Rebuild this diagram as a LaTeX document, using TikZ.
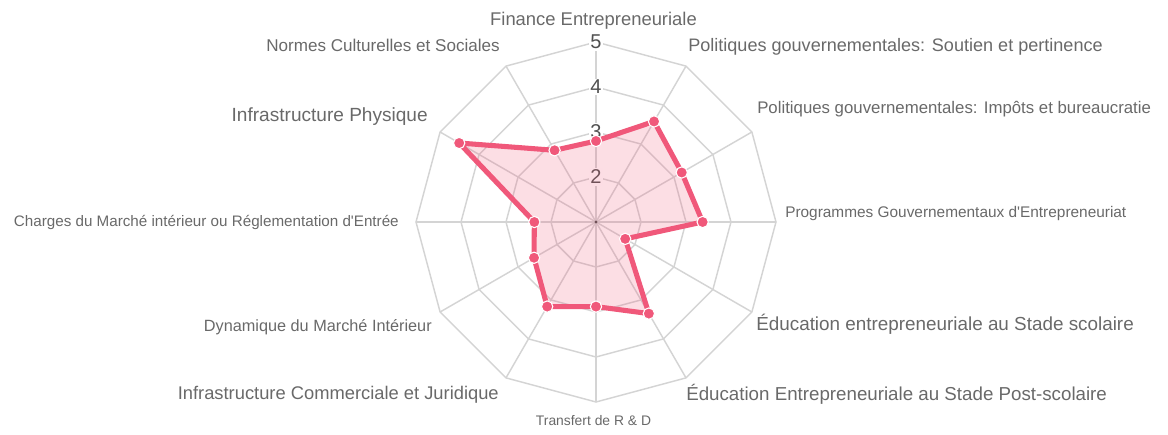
\documentclass[tikz,border=0pt]{standalone}
\usepackage{fontspec}
\setmainfont{Liberation Sans}
\usetikzlibrary{positioning}
\definecolor{radarrose}{RGB}{240,88,122}
\definecolor{grillegris}{RGB}{212,212,212}
\definecolor{etiqgris}{RGB}{105,105,105}
\definecolor{gradgris}{RGB}{80,80,80}

\tikzset{
  grille/.style={draw=grillegris, line width=1.1pt},
  etiq/.style={text=etiqgris, inner sep=0pt},
  grad/.style={text=gradgris, fill=white, inner sep=1.2pt, font=\fontsize{15}{15}\selectfont},
  pointrose/.style={circle, fill=radarrose, draw=white, line width=0.8pt, minimum size=8.5pt, inner sep=0pt}
}
\newcommand{\taille}[1]{\fontsize{#1}{#1}\selectfont}

\begin{document}
\begin{tikzpicture}[x=0.75pt,y=0.75pt]
    \useasboundingbox (-596,-213) rectangle (572,222);

    % Grille
    \coordinate (centre) at (0,0);
    \foreach \r in {45,90,135,180}
      \draw[grille] (0:\r) \foreach \a in {30,60,...,330} {-- (\a:\r)} -- cycle;
    \foreach \a in {0,30,...,330}
      \draw[grille] (centre) -- (\a:180);
    \fill[gradgris] (centre) circle (1.6);

    % Graduations
    \node[grad] (g2) at (90:45) {2};
    \node[grad] (g3) at (90:90) {3};
    \node[grad] (g4) at (90:135) {4};
    \node[grad] (g5) at (90:180) {5};

    % Valeurs
    \foreach \v [count=\i from 0] in {2.8,3.58,3.2,3.37,1.75,3.35,2.88,3.17,2.59,2.37,4.51,2.84}
      \coordinate (c\i) at ({90-30*\i}:{(\v-1)*45});
    \fill[radarrose, opacity=0.2] (c0) \foreach \i in {1,...,11} {-- (c\i)} -- cycle;
    \draw[radarrose, line width=3.8pt, line join=round] (c0) \foreach \i in {1,...,11} {-- (c\i)} -- cycle;
    \foreach \i in {0,...,11}
      \node[pointrose] (p\i) at (c\i) {};

    % Axes
    \node[etiq, font=\taille{13.8}, anchor=mid] (finance) at (-2.5,200) {Finance Entrepreneuriale};
    \node[etiq, font=\taille{13.55}, anchor=mid west] (soutien) at (92,174) {Politiques gouvernementales: Soutien et pertinence};
    \node[etiq, font=\taille{12.6}, anchor=mid west] (impots) at (161,112) {Politiques gouvernementales: Impôts et bureaucratie};
    \node[etiq, font=\taille{11.55}, anchor=mid west] (programmes) at (189,8) {Programmes Gouvernementaux d\textquotesingle Entrepreneuriat};
    \node[etiq, font=\taille{14.15}, anchor=mid west] (scolaire) at (160,-105) {Éducation entrepreneuriale au Stade scolaire};
    \node[etiq, font=\taille{14.05}, anchor=mid west] (postscolaire) at (90,-175) {Éducation Entrepreneuriale au Stade Post-scolaire};
    \node[etiq, font=\taille{10.4}, anchor=mid] (transfert) at (-2.5,-200) {Transfert de R \& D};
    \node[etiq, font=\taille{13.75}, anchor=mid east] (commerciale) at (-97,-174) {Infrastructure Commerciale et Juridique};
    \node[etiq, font=\taille{12.2}, anchor=mid east] (dynamique) at (-164,-106) {Dynamique du Marché Intérieur};
    \node[etiq, font=\taille{11.4}, anchor=mid east] (charges) at (-197,-1) {Charges du Marché intérieur ou Réglementation d\textquotesingle Entrée};
    \node[etiq, font=\taille{14.3}, anchor=mid east] (physique) at (-168,104) {Infrastructure Physique};
    \node[etiq, font=\taille{12.8}, anchor=mid east] (normes) at (-96,174) {Normes Culturelles et Sociales};
\end{tikzpicture}
\end{document}
